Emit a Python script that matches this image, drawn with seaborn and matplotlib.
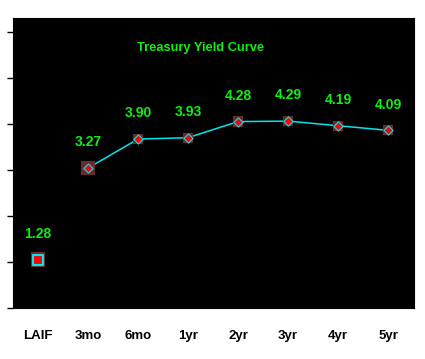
import matplotlib
matplotlib.use("Agg")
import matplotlib.pyplot as plt
import seaborn as sns
import pandas as pd
import numpy as np

categories = ['LAIF', '3mo', '6mo', '1yr', '2yr', '3yr', '4yr', '5yr']
yields = [1.28, 3.27, 3.90, 3.93, 4.28, 4.29, 4.19, 4.09]
title = 'Treasury Yield Curve'

df = pd.DataFrame({'pos': np.arange(len(categories)), 'cat': categories, 'yield': yields})
curve = df.iloc[1:]
laif = df.iloc[:1]

sns.set_style('white')
plt.rcParams['font.family'] = ['Liberation Sans', 'DejaVu Sans']

fig = plt.figure(figsize=(4.25, 3.59), dpi=100)
fig.patch.set_facecolor('white')
ax = fig.add_axes([13/425, 1 - 308/359, 401/425, 290/359])
ax.set_facecolor('black')

sns.lineplot(data=curve, x='pos', y='yield', color='#00e5ee', linewidth=1.1, ax=ax, zorder=2)
# backing squares
sns.scatterplot(data=curve.iloc[:1], x='pos', y='yield', marker='s', s=90, color='#6a2a2a',
                edgecolor='none', ax=ax, zorder=3)
sns.scatterplot(data=curve.iloc[1:], x='pos', y='yield', marker='s', s=55, color='#6a2a2a',
                edgecolor='none', ax=ax, zorder=3)
sns.scatterplot(data=curve, x='pos', y='yield', marker='D', s=22, color='red',
                edgecolor='#00e5ee', linewidth=0.8, ax=ax, zorder=4)
sns.scatterplot(data=laif, x='pos', y='yield', marker='s', s=110, color='#6a2a2a',
                edgecolor='none', ax=ax, zorder=3)
sns.scatterplot(data=laif, x='pos', y='yield', marker='s', s=50, color='red',
                edgecolor='#00e5ee', linewidth=1.5, ax=ax, zorder=4)

for p, v in zip(df['pos'], df['yield']):
    ax.annotate(f'{v:.2f}', (p, v), xytext=(0, 18.5), textcoords='offset points',
                ha='center', va='center', color='#11ee11', fontsize=10, fontweight='bold',
                family=['Liberation Sans Narrow', 'Liberation Sans', 'DejaVu Sans'])

ax.text(0.468, 1 - (48 - 18) / 290, title, transform=ax.transAxes, ha='center', va='center',
        color='#11ee11', fontsize=9.3, fontweight='bold')

ax.set_xlim(-0.5, 7.52)
ax.set_ylim(0.23, 6.53)
ax.set_xticks(np.arange(-0.5, 8, 1.0))
ax.set_xticklabels([])
ax.set_xticks(df['pos'], minor=True)
ax.set_xticklabels(categories, minor=True, fontsize=9.5, fontweight='bold', color='black')
ax.tick_params(axis='x', which='major', length=4, direction='out', color='black', width=1)
ax.tick_params(axis='x', which='minor', length=0, pad=15.5)
ax.set_yticks(0.23 + np.arange(7) * 1.0)
ax.set_yticklabels([])
ax.tick_params(axis='y', length=4, direction='out', color='black', width=1, left=True)
ax.set_xlabel('')
ax.set_ylabel('')
for s in ax.spines.values():
    s.set_color('black')

fig.savefig('out.png', dpi=100, facecolor='white')
